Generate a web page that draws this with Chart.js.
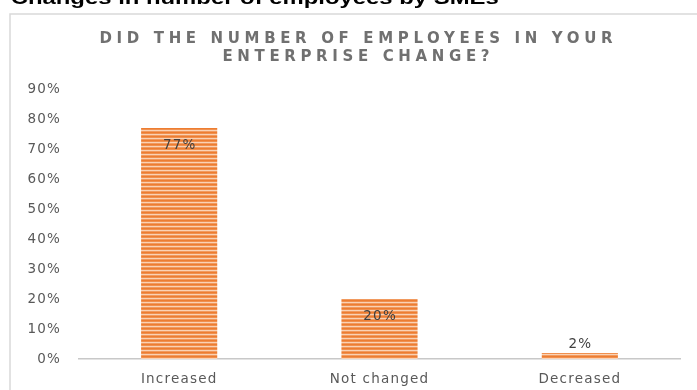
<!DOCTYPE html>
<html>
<head>
<meta charset="utf-8">
<title>Employees change</title>
<script src="https://cdn.jsdelivr.net/npm/chart.js@4.4.1/dist/chart.umd.min.js"></script>
<style>
  html, body { margin: 0; padding: 0; background: #fff; overflow: hidden; }
  canvas { display: block; }
</style>
</head>
<body>
<canvas id="empChart" width="697" height="390"></canvas>
<script>
const categories = ["Increased", "Not changed", "Decreased"];
const shares = [77, 20, 2];
const yTicks = [0, 10, 20, 30, 40, 50, 60, 70, 80, 90];
const heading = "Changes in number of employees by SMEs";
const titleLines = ["DID THE NUMBER OF EMPLOYEES IN YOUR", "ENTERPRISE CHANGE?"];

const FONT = "'DejaVu Sans', sans-serif";
const TEXT_GREY = "#595959";
const LABEL_SPACING = "1.2px";

// horizontal orange stripes for the bars
function stripePattern(ctx) {
  const c = document.createElement("canvas");
  c.width = 8;
  c.height = 4;
  const p = c.getContext("2d");
  const rows = ["#ed7d31", "#f0904f", "#fad2b4", "#f19a5f"];
  rows.forEach((col, i) => {
    p.fillStyle = col;
    p.fillRect(0, i, 8, 1);
  });
  return ctx.createPattern(c, "repeat");
}

const ctx = document.getElementById("empChart").getContext("2d");

// axis labels get a little tracking; headings are drawn once the chart is done
const framePlugin = {
  id: "frame",
  beforeDraw(chart) {
    chart.ctx.letterSpacing = LABEL_SPACING;
  },
  afterDraw(chart) {
    const c = chart.ctx;
    c.save();
    c.letterSpacing = "0px";
    c.fillStyle = "#000";
    c.font = "bold 18.5px 'Liberation Sans', Arial, sans-serif";
    c.textBaseline = "alphabetic";
    c.textAlign = "left";
    c.translate(12, 4);
    c.scale(1.29, 1);
    c.fillText(heading, -1, 0);
    c.restore();

    c.save();
    c.strokeStyle = "#d9d9d9";
    c.lineWidth = 1.5;
    c.strokeRect(10, 14, 720, 420);
    c.restore();

    // spaced capitals title
    c.save();
    c.fillStyle = "#707070";
    c.font = "bold 15px " + FONT;
    c.textBaseline = "middle";
    c.textAlign = "left";
    const cx = 356;
    const targetW = 513;
    c.letterSpacing = "0px";
    const base = c.measureText(titleLines[0]).width;
    const spacing = (targetW - base) / (titleLines[0].length - 1);
    c.letterSpacing = spacing + "px";
    titleLines.forEach((line, i) => {
      const w = c.measureText(line).width - spacing;
      c.fillText(line, cx - w / 2, 39 + i * 18.5);
    });
    c.restore();
    c.letterSpacing = LABEL_SPACING;
  }
};

const valueLabels = {
  id: "valueLabels",
  afterDatasetsDraw(chart) {
    const c = chart.ctx;
    const meta = chart.getDatasetMeta(0);
    c.save();
    c.letterSpacing = LABEL_SPACING;
    c.font = "13.5px " + FONT;
    c.fillStyle = "#404040";
    c.textAlign = "center";
    c.textBaseline = "middle";
    meta.data.forEach((bar, i) => {
      const v = chart.data.datasets[0].data[i];
      const y = v >= 10 ? bar.y + 17 : bar.y - 9;
      c.fillText(v + "%", bar.x + 0.6, y);
    });
    c.restore();
  }
};

new Chart(ctx, {
  type: "bar",
  data: {
    labels: categories,
    datasets: [{
      data: shares,
      backgroundColor: stripePattern(ctx),
      borderWidth: 0,
      categoryPercentage: 1,
      barPercentage: 0.38
    }]
  },
  options: {
    responsive: false,
    animation: false,
    layout: { padding: { left: 10, right: 17, top: 89, bottom: 0 } },
    plugins: {
      legend: { display: false },
      title: { display: false },
      tooltip: { enabled: false }
    },
    scales: {
      x: {
        grid: { display: false, drawTicks: false },
        border: { display: true, color: "#c8c8c8", width: 1.5 },
        ticks: { color: TEXT_GREY, font: { family: FONT, size: 13.5 }, padding: 12 },
        afterFit(scale) { scale.height = 31; }
      },
      y: {
        min: 0,
        max: yTicks[yTicks.length - 1],
        grid: { display: false, drawTicks: false },
        border: { display: false },
        afterBuildTicks(scale) { scale.ticks = yTicks.map(v => ({ value: v })); },
        ticks: {
          color: TEXT_GREY,
          font: { family: FONT, size: 13.5 },
          padding: 18,
          callback: v => v + "%"
        },
        afterFit(scale) { scale.width = 69; }
      }
    }
  },
  plugins: [framePlugin, valueLabels]
});
</script>
</body>
</html>
